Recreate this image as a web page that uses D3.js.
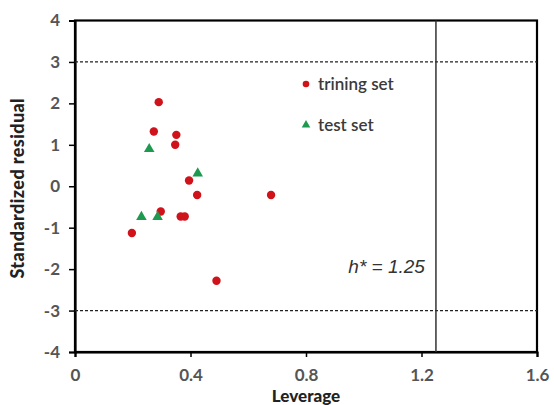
<!DOCTYPE html>
<html>
<head>
<meta charset="utf-8">
<script src="https://cdn.jsdelivr.net/npm/d3@7"></script>
<style>
  body { margin: 0; background: #fff; }
  svg { display: block; }
</style>
</head>
<body>
<div id="chart"></div>
<script>
// training set (leverage, standardized residual)
const trainLev = [0.29, 0.273, 0.351, 0.347, 0.395, 0.423, 0.679, 0.297, 0.366, 0.38, 0.197, 0.49];
const trainRes = [2.03, 1.32, 1.24, 1.0, 0.14, -0.21, -0.21, -0.61, -0.73, -0.73, -1.13, -2.28];
// test set
const testLev = [0.257, 0.425, 0.23, 0.286];
const testRes = [0.9, 0.31, -0.74, -0.74];

const xTicks = [0, 0.4, 0.8, 1.2, 1.6];
const yTicks = [-4, -3, -2, -1, 0, 1, 2, 3, 4];
const hStar = 1.25;
const limits = [3, -3];

const width = 554, height = 405;
const margin = {top: 20.5, right: 17, bottom: 53, left: 75};

const svg = d3.select("#chart")
    .append("svg")
    .attr("width", width)
    .attr("height", height);

const x = d3.scaleLinear()
    .domain([0, 1.6])
    .range([margin.left, width - margin.right]);

const y = d3.scaleLinear()
    .domain([-4, 4])
    .range([height - margin.bottom, margin.top]);

// frame
svg.append("rect")
    .attr("x", x(0))
    .attr("y", y(4))
    .attr("width", x(1.6) - x(0))
    .attr("height", y(-4) - y(4))
    .style("fill", "none")
    .style("stroke", "#000")
    .style("stroke-width", 2.2);

// axes
const xAxis = svg.append("g")
    .attr("transform", `translate(0,${y(-4)})`)
    .call(d3.axisBottom(x).tickValues(xTicks).tickSize(5).tickPadding(12).tickFormat(d => String(d)));

const yAxis = svg.append("g")
    .attr("transform", `translate(${x(0)},0)`)
    .call(d3.axisLeft(y).tickValues(yTicks).tickSize(6).tickPadding(9).tickFormat(d => String(d)));

[xAxis, yAxis].forEach(g => {
    g.select(".domain").style("stroke", "#000").style("stroke-width", 2.2);
    g.selectAll(".tick line").style("stroke", "#000").style("stroke-width", 1.5);
    g.selectAll(".tick text")
        .style("font-family", "Lato, 'Open Sans', sans-serif")
        .style("font-size", "17px")
        .style("font-weight", "bold")
        .style("fill", "#555");
});

// dashed limits
svg.selectAll(".limit")
    .data(limits)
    .enter()
    .append("line")
    .attr("x1", x(0))
    .attr("x2", x(1.6))
    .attr("y1", d => y(d))
    .attr("y2", d => y(d))
    .style("stroke", "#222")
    .style("stroke-width", 1.3)
    .style("stroke-dasharray", "3,2");

// h* line
svg.append("line")
    .attr("x1", x(hStar))
    .attr("x2", x(hStar))
    .attr("y1", y(4))
    .attr("y2", y(-4))
    .style("stroke", "#333")
    .style("stroke-width", 1.5);

svg.append("text")
    .attr("x", x(hStar) - 11)
    .attr("y", y(-2.1))
    .attr("text-anchor", "end")
    .style("font-family", "'Liberation Sans', Arial, sans-serif")
    .style("font-style", "italic")
    .style("font-size", "19px")
    .style("fill", "#333")
    .text("h* = 1.25");

// points
const train = trainLev.map((d, i) => ({lev: d, res: trainRes[i]}));
const test = testLev.map((d, i) => ({lev: d, res: testRes[i]}));

svg.selectAll(".train")
    .data(train)
    .enter()
    .append("circle")
    .attr("cx", d => x(d.lev))
    .attr("cy", d => y(d.res))
    .attr("r", 4.2)
    .style("fill", "#d0121b");

const tri = d3.symbol().type(d3.symbolTriangle).size(48);
svg.selectAll(".test")
    .data(test)
    .enter()
    .append("path")
    .attr("d", tri)
    .attr("transform", d => `translate(${x(d.lev)},${y(d.res)})`)
    .style("fill", "#1e9a50");

// legend
svg.append("circle")
    .attr("cx", 306)
    .attr("cy", 84)
    .attr("r", 3.3)
    .style("fill", "#d0121b");

svg.append("path")
    .attr("d", d3.symbol().type(d3.symbolTriangle).size(32))
    .attr("transform", "translate(306,125)")
    .style("fill", "#1e9a50");

svg.append("text")
    .attr("x", 318)
    .attr("y", 90)
    .style("font-family", "Lato, 'Open Sans', sans-serif")
    .style("font-size", "17px")
    .style("font-weight", "600")
    .style("fill", "#3a3a3a")
    .text("trining set");

svg.append("text")
    .attr("x", 318)
    .attr("y", 131)
    .style("font-family", "Lato, 'Open Sans', sans-serif")
    .style("font-size", "17px")
    .style("font-weight", "600")
    .style("fill", "#3a3a3a")
    .text("test set");

// axis titles
svg.append("text")
    .attr("x", (x(0) + x(1.6)) / 2)
    .attr("y", 402)
    .attr("text-anchor", "middle")
    .style("font-family", "Lato, 'Open Sans', sans-serif")
    .style("font-size", "17px")
    .style("font-weight", "900")
    .style("fill", "#222")
    .text("Leverage");

svg.append("text")
    .attr("transform", `translate(24,${y(0) + 2}) rotate(-90)`)
    .attr("text-anchor", "middle")
    .style("font-family", "Lato, 'Open Sans', sans-serif")
    .style("font-size", "18px")
    .style("font-weight", "900")
    .style("letter-spacing", "0.4px")
    .style("fill", "#222")
    .text("Standardized residual");
</script>
</body>
</html>
